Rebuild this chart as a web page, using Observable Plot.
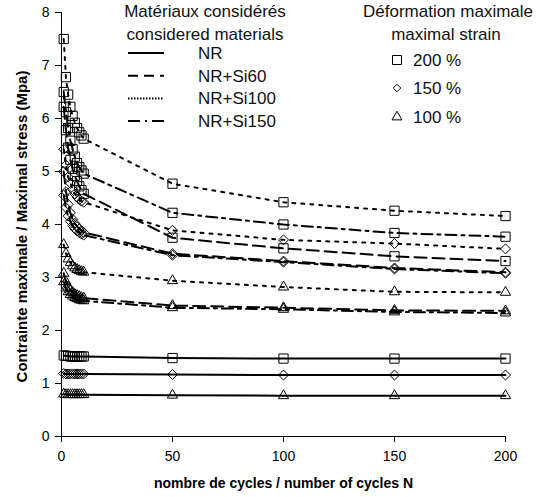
<!DOCTYPE html>
<html><head><meta charset="utf-8">
<script src="https://cdn.jsdelivr.net/npm/d3@7"></script>
<script src="https://cdn.jsdelivr.net/npm/@observablehq/plot@0.6"></script>
<style>
body{margin:0;background:#fff;}
#wrap{position:relative;width:547px;height:497px;}
#legend{position:absolute;left:0;top:0;pointer-events:none;}
</style></head><body><div id="wrap"></div>
<script>
const cycles = [1,2,3,4,5,6,7,8,9,10,50,100,150,200];
const materials = ["NR","NR+Si60","NR+Si100","NR+Si150"];
const strains = ["200 %","150 %","100 %"];
const xTicks = [0,50,100,150,200];
const yTicks = [0,1,2,3,4,5,6,7,8];
const xLabel = "nombre de cycles / number of cycles N";
const yLabel = "Contrainte maximale / Maximal stress (Mpa)";

const NR_200 = [1.53,1.52,1.52,1.51,1.51,1.51,1.51,1.51,1.51,1.51,1.48,1.47,1.47,1.47];
const NR_150 = [1.19,1.18,1.18,1.18,1.18,1.18,1.18,1.18,1.18,1.18,1.17,1.16,1.16,1.16];
const NR_100 = [0.80,0.79,0.79,0.79,0.79,0.79,0.79,0.79,0.79,0.79,0.78,0.77,0.77,0.77];
const Si60_200 = [6.22,5.78,5.45,5.22,5.05,4.92,4.82,4.72,4.65,4.58,3.75,3.55,3.40,3.31];
const Si60_150 = [5.00,4.62,4.38,4.22,4.10,4.02,3.96,3.92,3.88,3.85,3.45,3.31,3.18,3.10];
const Si60_100 = [3.08,2.92,2.82,2.76,2.72,2.68,2.66,2.64,2.62,2.61,2.47,2.43,2.38,2.37];
const Si100_200 = [7.50,6.78,6.45,6.22,6.05,5.92,5.82,5.74,5.68,5.62,4.77,4.42,4.26,4.16];
const Si100_150 = [5.42,5.12,4.90,4.78,4.66,4.58,4.52,4.47,4.44,4.42,3.89,3.71,3.64,3.54];
const Si100_100 = [3.62,3.45,3.35,3.28,3.22,3.18,3.15,3.13,3.11,3.10,2.94,2.82,2.73,2.72];
const Si150_200 = [6.50,6.12,5.82,5.58,5.42,5.28,5.16,5.08,5.02,4.96,4.22,4.00,3.84,3.77];
const Si150_150 = [4.55,4.32,4.16,4.06,3.98,3.92,3.88,3.85,3.82,3.80,3.42,3.29,3.16,3.08];
const Si150_100 = [2.92,2.80,2.73,2.68,2.65,2.62,2.60,2.58,2.57,2.56,2.43,2.40,2.35,2.33];

const series = [
  {material:"NR", strain:"200 %", values:NR_200},
  {material:"NR", strain:"150 %", values:NR_150},
  {material:"NR", strain:"100 %", values:NR_100},
  {material:"NR+Si60", strain:"200 %", values:Si60_200},
  {material:"NR+Si60", strain:"150 %", values:Si60_150},
  {material:"NR+Si60", strain:"100 %", values:Si60_100},
  {material:"NR+Si100", strain:"200 %", values:Si100_200},
  {material:"NR+Si100", strain:"150 %", values:Si100_150},
  {material:"NR+Si100", strain:"100 %", values:Si100_100},
  {material:"NR+Si150", strain:"200 %", values:Si150_200},
  {material:"NR+Si150", strain:"150 %", values:Si150_150},
  {material:"NR+Si150", strain:"100 %", values:Si150_100}
];
const rows = series.flatMap(s => s.values.map((v,i) => ({N:cycles[i], stress:v, material:s.material, strain:s.strain, id:s.material+"|"+s.strain})));

const lineDash = {"NR":null,"NR+Si60":"12,6","NR+Si100":"3,6","NR+Si150":"11,5,3,5"};
const legendDash = {"NR":null,"NR+Si60":"10,6","NR+Si100":"1.5,1.5","NR+Si150":"12,5,2,5"};
const symbolOf = {"200 %":"square","150 %":"diamond2","100 %":"triangle"};
const rOf = {"200 %":5.2,"150 %":4.5,"100 %":3.8};

const FONT = "'Liberation Sans', Arial, sans-serif";
const marks = [
  Plot.ruleY([0], {stroke:"#000"}),
  Plot.ruleX([0], {stroke:"#000"}),
  Plot.axisX({ticks:xTicks, tickSize:6, tickPadding:9, label:null, tickFormat:d=>String(d)}),
  Plot.axisY({ticks:yTicks, tickSize:6, tickPadding:6, label:null, tickFormat:d=>String(d)}),
  Plot.text([xLabel], {frameAnchor:"bottom", textAnchor:"middle", dy:51, fontWeight:"bold", fontSize:14}),
  Plot.text([yLabel], {frameAnchor:"left", textAnchor:"middle", dx:-39, dy:2, rotate:-90, fontWeight:"bold", fontSize:15})
];
for (const m of materials) {
  const opts = {x:"N", y:"stress", z:"id", stroke:"#000", strokeWidth:2};
  if (lineDash[m]) opts.strokeDasharray = lineDash[m];
  marks.push(Plot.line(rows.filter(d => d.material === m), opts));
}
for (const s of strains) {
  marks.push(Plot.dot(rows.filter(d => d.strain === s), {x:"N", y:"stress", symbol:symbolOf[s], r:rOf[s], stroke:"#000", fill:"none", strokeWidth:1}));
}

const chart = Plot.plot({
  width:547, height:497,
  marginLeft:61, marginRight:42, marginTop:12, marginBottom:61,
  x:{domain:[0,200]},
  y:{domain:[0,8]},
  style:{fontFamily:FONT, fontSize:"14px", color:"#000", background:"#fff"},
  marks
});
document.getElementById("wrap").appendChild(chart);

// legend overlay
const svg = d3.select("#wrap").append("svg").attr("id","legend")
  .attr("width",547).attr("height",497)
  .style("font-family",FONT).style("font-size","17px").attr("fill","#111");
svg.append("text").attr("x",205).attr("y",17).attr("text-anchor","middle").text("Matériaux considérés");
svg.append("text").attr("x",205).attr("y",40).attr("text-anchor","middle").text("considered materials");
materials.forEach((m,i) => {
  const y = 53 + 22.7*i;
  const ln = svg.append("line").attr("x1",128).attr("x2",164).attr("y1",y).attr("y2",y)
    .attr("stroke","#000").attr("stroke-width",2);
  if (legendDash[m]) ln.attr("stroke-dasharray",legendDash[m]);
  svg.append("text").attr("x",198).attr("y",y+6).text(m);
});
svg.append("text").attr("x",448).attr("y",17).attr("text-anchor","middle").text("Déformation maximale");
svg.append("text").attr("x",446).attr("y",40).attr("text-anchor","middle").text("maximal strain");
const legSym = {"200 %":[d3.symbolSquare,81],"150 %":[d3.symbolDiamond2,36],"100 %":[d3.symbolTriangle,43]};
const legY = [60,88,117];
strains.forEach((s,i) => {
  const [sym,size] = legSym[s];
  svg.append("path").attr("d", d3.symbol(sym,size)()).attr("transform",`translate(397,${legY[i]})`)
    .attr("fill","none").attr("stroke","#000").attr("stroke-width",1);
  svg.append("text").attr("x",413).attr("y",legY[i]+6).text(s);
});
</script></body></html>
